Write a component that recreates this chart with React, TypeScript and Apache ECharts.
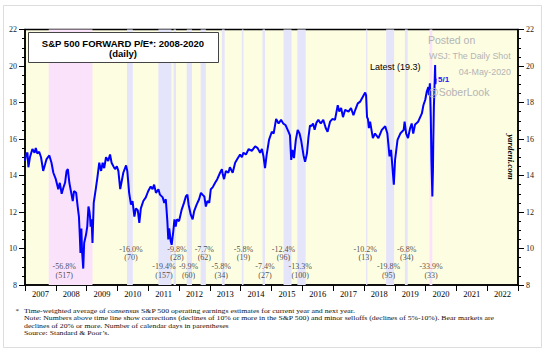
import React, { useEffect, useRef } from 'react';
import * as echarts from 'echarts';

const years = ['2007','2008','2009','2010','2011','2012','2013','2014','2015','2016','2017','2018','2019','2020','2021','2022'];

// decimal-year dates and forward P/E values
const t = [
2007.00,2007.03,2007.08,2007.11,2007.16,2007.24,2007.31,2007.35,2007.40,2007.46,2007.52,2007.59,2007.65,2007.70,2007.79,2007.86,2007.92,
2008.00,2008.08,2008.13,2008.19,2008.24,2008.30,2008.35,2008.39,2008.44,2008.50,2008.55,2008.59,2008.66,2008.71,2008.75,2008.78,2008.80,2008.83,2008.85,2008.89,2008.92,2008.98,
2009.02,2009.06,2009.09,2009.11,2009.13,2009.16,2009.19,2009.23,2009.30,2009.35,2009.41,2009.47,2009.52,2009.57,2009.63,2009.70,2009.76,2009.81,2009.87,2009.92,2009.98,
2010.03,2010.09,2010.14,2010.19,2010.28,2010.32,2010.38,2010.44,2010.49,2010.55,2010.60,2010.66,2010.71,2010.76,2010.84,2010.92,
2011.00,2011.08,2011.14,2011.19,2011.25,2011.33,2011.38,2011.47,2011.52,2011.57,2011.62,2011.65,2011.68,2011.73,2011.76,2011.81,2011.85,2011.89,2011.93,
2012.00,2012.08,2012.16,2012.22,2012.27,2012.31,2012.38,2012.44,2012.49,2012.57,2012.65,2012.71,2012.76,2012.82,2012.87,2012.92,2012.98,
2013.03,2013.09,2013.17,2013.24,2013.33,2013.39,2013.42,2013.46,2013.52,2013.60,2013.65,2013.74,2013.82,2013.89,2013.98,
2014.04,2014.09,2014.17,2014.26,2014.36,2014.47,2014.55,2014.63,2014.69,2014.74,2014.79,2014.84,2014.92,
2015.01,2015.07,2015.15,2015.23,2015.31,2015.38,2015.46,2015.55,2015.60,2015.64,2015.68,2015.73,2015.79,2015.85,2015.91,2015.96,
2016.04,2016.09,2016.15,2016.20,2016.25,2016.29,2016.35,2016.40,2016.46,2016.52,2016.60,2016.68,2016.76,2016.82,2016.90,2016.98,
2017.06,2017.15,2017.20,2017.26,2017.32,2017.39,2017.50,2017.58,2017.66,2017.72,2017.80,2017.88,2017.96,
2018.04,2018.07,2018.10,2018.13,2018.16,2018.20,2018.29,2018.36,2018.47,2018.58,2018.69,2018.76,2018.83,2018.88,2018.97,
2019.01,2019.09,2019.18,2019.29,2019.32,2019.37,2019.43,2019.50,2019.55,2019.60,2019.66,2019.76,2019.88,2019.93,2019.99,
2020.04,2020.09,2020.11,2020.14,2020.17,2020.19,2020.22,2020.24,2020.25,2020.27,2020.29,2020.31,2020.32,2020.33
];
const pe = [
14.8,15.15,15.25,14.45,15.0,15.45,15.25,15.5,15.2,15.3,15.0,14.25,14.6,14.9,15.1,14.7,14.15,
13.8,13.25,13.6,13.0,13.3,13.6,14.25,14.35,13.6,13.05,12.6,13.15,13.05,12.3,11.75,10.65,9.75,11.1,9.9,8.9,10.3,10.75,
11.2,12.3,12.05,11.75,11.2,11.6,10.3,12.5,13.3,13.9,14.7,14.25,14.7,14.4,15.0,14.8,15.15,14.7,14.5,14.35,14.5,
14.25,13.25,13.7,14.15,14.55,14.25,13.05,12.4,12.6,11.75,12.2,12.1,11.4,12.2,12.6,12.8,
13.15,13.4,13.25,13.5,13.05,13.25,12.95,12.8,12.5,12.7,11.5,10.5,11.1,10.4,10.2,10.9,11.6,11.2,11.6,
11.5,12.1,12.5,12.85,12.95,12.4,11.85,11.6,12.05,12.4,12.7,13.05,12.95,12.85,12.3,12.6,12.5,
13.25,13.35,13.6,13.8,14.15,14.35,14.05,13.8,14.25,14.15,14.45,14.15,14.7,14.9,15.15,
15.0,15.25,15.15,15.45,15.35,15.6,15.5,15.25,15.45,15.05,14.4,15.1,15.95,
16.4,16.3,17.1,16.85,17.05,16.85,16.75,16.4,16.2,14.85,15.4,14.95,15.95,16.5,16.3,15.95,
15.1,14.75,15.2,16.1,16.75,16.7,16.85,16.5,16.9,17.05,16.85,17.05,16.6,16.4,16.95,17.1,
17.05,17.85,17.5,17.7,17.2,17.6,17.5,17.7,17.3,17.6,17.95,18.05,18.3,
18.55,18.4,17.2,17.1,16.6,16.95,16.05,16.3,16.05,16.5,16.7,16.3,15.05,15.4,13.5,
14.85,15.95,16.3,16.5,16.95,16.3,16.05,16.6,16.85,16.3,16.8,16.95,17.4,17.85,18.15,
18.6,18.85,18.4,19.05,17.2,14.85,12.85,14.3,15.75,17.75,18.85,20.05,19.0,19.3
];

const bearStart = [2007.77, 2020.13];
const bearEnd = [2009.19, 2020.22];
const corrStart = [2010.31, 2011.33, 2011.82, 2012.25, 2012.70, 2013.39, 2014.04, 2014.71, 2015.39, 2015.84, 2018.07, 2018.72, 2019.33];
const corrEnd = [2010.50, 2011.755, 2011.90, 2012.42, 2012.87, 2013.48, 2014.09, 2014.79, 2015.65, 2016.11, 2018.11, 2018.98, 2019.42];

const selloffPct = ['-56.8%','-16.0%','-19.4%','-9.8%','-9.9%','-7.7%','-5.8%','-5.8%','-7.4%','-12.4%','-13.3%','-10.2%','-19.8%','-6.8%','-33.9%'];
const selloffDays = ['517','70','157','28','60','62','34','19','27','96','100','13','95','34','33'];
const selloffAt = [2008.27, 2010.44, 2011.51, 2011.93, 2012.31, 2012.82, 2013.37, 2014.09, 2014.79, 2015.39, 2015.93, 2018.04, 2018.80, 2019.39, 2020.18];

const latestValue = '19.3';
const latestDate = '5/1';

const footnotes = [
  'Time-weighted average of consensus S&P 500 operating earnings estimates for current year and next year.',
  'Note: Numbers above time line show corrections (declines of 10% or more in the S&P 500) and minor selloffs (declines of 5%-10%). Bear markets are',
  'declines of 20% or more. Number of calendar days in parentheses',
  'Source: Standard & Poor\u2019s.'
];

const SERIF = '"Liberation Serif", "Times New Roman", serif';
const SANS = '"Liberation Sans", Arial, sans-serif';

export default function App() {
  const ref = useRef<HTMLDivElement>(null);
  useEffect(() => {
    if (!ref.current) return;
    const chart = echarts.init(ref.current, null, { renderer: 'svg' });
    const areas: any[] = [];
    bearStart.forEach((s, i) => areas.push([{ xAxis: s, itemStyle: { color: '#fbe2fb' } }, { xAxis: bearEnd[i] }]));
    corrStart.forEach((s, i) => areas.push([{ xAxis: s, itemStyle: { color: '#e4e4fa' } }, { xAxis: corrEnd[i] }]));
    const rowY = [9.73, 8.75];
    const labelData = selloffAt.map((x, i) => ({
      value: [x, rowY[i % 2 === 0 ? 1 : 0]],
      name: selloffPct[i] + '\n(' + selloffDays[i] + ')',
    }));
    const yAxisBase = {
      type: 'value', min: 8, max: 22, interval: 2,
      axisLine: { show: true, lineStyle: { color: '#000', width: 1.5 } },
      axisTick: { show: true, length: 6, lineStyle: { color: '#000' } },
      minorTick: { show: true, splitNumber: 4, length: 3, lineStyle: { color: '#000' } },
      splitLine: { show: false },
      axisLabel: { fontFamily: SERIF, fontSize: 8, color: '#222', margin: 8 },
    };
    chart.setOption({
      animation: false,
      backgroundColor: '#fff',
      grid: { left: 25, right: 30, top: 29.5, bottom: 67, show: true, backgroundColor: '#fdfde2', borderColor: '#000', borderWidth: 1.5 },
      xAxis: [
        {
          type: 'category', data: years, boundaryGap: true, gridIndex: 0,
          axisLine: { show: true, lineStyle: { color: '#000', width: 1.5 } },
          axisTick: { show: true, length: 6, interval: 0, lineStyle: { color: '#000' } },
          axisLabel: { interval: 0, fontFamily: SERIF, fontSize: 8.5, color: '#000', margin: 4 },
        },
        { type: 'value', min: 2007, max: 2023, show: false, gridIndex: 0 },
      ],
      yAxis: [
        { ...yAxisBase, position: 'left' },
        { ...yAxisBase, position: 'right' },
      ],
      series: [
        {
          type: 'line', xAxisIndex: 1, yAxisIndex: 0, data: [], z: 1, silent: true,
          markArea: { silent: true, data: areas },
        },
        {
          type: 'line', xAxisIndex: 1, yAxisIndex: 0, z: 3,
          data: t.map((x, i) => [x, pe[i]]),
          showSymbol: false, symbol: 'none',
          lineStyle: { color: '#0000ff', width: 2 },
        },
        {
          type: 'scatter', xAxisIndex: 1, yAxisIndex: 0, z: 4, symbolSize: 0,
          data: labelData,
          label: {
            show: true, position: 'inside', formatter: (p: any) => p.name,
            fontFamily: SERIF, fontSize: 8, color: '#222', lineHeight: 8.7, align: 'center', verticalAlign: 'middle',
          },
        },
      ],
      graphic: [
        { type: 'rect', shape: { x: 3.5, y: 5.5, width: 538, height: 342 }, style: { fill: 'none', stroke: '#dddddd', lineWidth: 1 }, z: -1 },
        { type: 'rect', shape: { x: 28.5, y: 32.5, width: 190, height: 30 }, style: { fill: '#fff', stroke: '#444', lineWidth: 1 }, z: 10 },
        { type: 'text', x: 123, y: 43, z: 11, style: { text: 'S&P 500 FORWARD P/E*: 2008-2020', fontFamily: SANS, fontWeight: 'bold', fontSize: 9.5, fill: '#000', textAlign: 'center', textVerticalAlign: 'middle' } },
        { type: 'text', x: 123, y: 53.5, z: 11, style: { text: '(daily)', fontFamily: SANS, fontWeight: 'bold', fontSize: 9.5, fill: '#000', textAlign: 'center', textVerticalAlign: 'middle' } },
        { type: 'text', x: 428, y: 40, z: 11, style: { text: 'Posted on', fontFamily: SANS, fontSize: 10.5, fill: '#b4b4b4', textAlign: 'left', textVerticalAlign: 'middle' } },
        { type: 'text', x: 429, y: 56, z: 11, style: { text: 'WSJ: The Daily Shot', fontFamily: SANS, fontSize: 8.9, fill: '#b4b4b4', textAlign: 'left', textVerticalAlign: 'middle' } },
        { type: 'text', x: 511, y: 72, z: 11, style: { text: '04-May-2020', fontFamily: SANS, fontSize: 8.9, fill: '#b4b4b4', textAlign: 'right', textVerticalAlign: 'middle' } },
        { type: 'text', x: 428, y: 92, z: 11, style: { text: '@SoberLook', fontFamily: SANS, fontSize: 10.5, fill: '#b4b4b4', textAlign: 'left', textVerticalAlign: 'middle' } },
        { type: 'text', x: 370, y: 67, z: 11, style: { text: 'Latest (' + latestValue + ')', fontFamily: SANS, fontSize: 9, fill: '#000', textAlign: 'left', textVerticalAlign: 'middle' } },
        { type: 'text', x: 438, y: 79, z: 11, style: { text: latestDate, fontFamily: SANS, fontSize: 8, fontWeight: 'bold', fill: '#2222ee', textAlign: 'left', textVerticalAlign: 'middle' } },
        { type: 'text', x: 511, y: 157, rotation: -Math.PI / 2, z: 11, style: { text: 'yardeni.com', fontFamily: SERIF, fontSize: 9, fontWeight: 'bold', fontStyle: 'italic', fill: '#000', textAlign: 'center', textVerticalAlign: 'middle' } },
        { type: 'text', x: 15.5, y: 310.8, z: 11, style: { text: '*', fontFamily: SERIF, fontSize: 7, fill: '#222', textAlign: 'left', textVerticalAlign: 'middle' } },
        ...footnotes.map((s, i) => ({
          type: 'text', x: 24, y: 310.8 + i * 7.6, scaleX: 1.16, z: 11,
          style: { text: s, fontFamily: SERIF, fontSize: 6.7, fill: '#111', textAlign: 'left', textVerticalAlign: 'middle' },
        })),
      ],
    });
    return () => chart.dispose();
  }, []);
  return <div ref={ref} style={{ position: 'fixed', left: 0, top: 0, width: 548, height: 352 }} />;
}
